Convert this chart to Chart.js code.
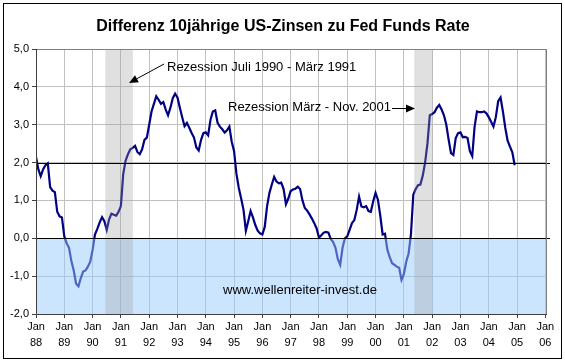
<!DOCTYPE html>
<html>
<head>
<meta charset="utf-8">
<script src="https://cdn.jsdelivr.net/npm/chart.js@4/dist/chart.umd.min.js"></script>
<style>
    html, body { margin: 0; padding: 0; background: #fff; }
    canvas { display: block; }
</style>
</head>
<body>
<canvas id="spreadChart" width="565" height="362"></canvas>
<script>
// Monatswerte (10J-Rendite minus Fed Funds), Jan 1988 .. Dez 2004
const y1988 = [2.15, 1.82, 1.64, 1.82, 1.93, 1.98, 1.35, 1.26, 1.22, 0.7, 0.58, 0.55];
const y1989 = [0.05, -0.13, -0.25, -0.6, -0.85, -1.2, -1.27, -1.05, -0.88, -0.85, -0.75, -0.62];
const y1990 = [-0.31, 0.1, 0.25, 0.42, 0.56, 0.45, 0.22, 0.5, 0.65, 0.62, 0.6, 0.7];
const y1991 = [0.85, 1.7, 2.05, 2.22, 2.35, 2.39, 2.44, 2.28, 2.22, 2.35, 2.6, 2.66];
const y1992 = [3.0, 3.35, 3.55, 3.75, 3.66, 3.55, 3.6, 3.4, 3.25, 3.45, 3.7, 3.82];
const y1993 = [3.72, 3.45, 3.2, 2.96, 3.05, 2.92, 2.78, 2.66, 2.4, 2.32, 2.6, 2.78];
const y1994 = [2.8, 2.72, 3.13, 3.35, 3.38, 3.05, 2.95, 2.88, 2.79, 2.85, 2.95, 2.55];
const y1995 = [2.3, 1.7, 1.33, 1.05, 0.75, 0.2, 0.45, 0.72, 0.55, 0.35, 0.2, 0.13];
const y1996 = [0.1, 0.3, 0.85, 1.2, 1.42, 1.62, 1.5, 1.45, 1.47, 1.3, 0.9, 1.05];
const y1997 = [1.25, 1.29, 1.31, 1.36, 1.3, 1.0, 0.8, 0.73, 0.63, 0.52, 0.4, 0.26];
const y1998 = [0.02, 0.08, 0.15, 0.17, 0.15, -0.02, -0.1, -0.25, -0.55, -0.7, -0.25, 0.0];
const y1999 = [0.05, 0.22, 0.4, 0.48, 0.75, 1.1, 0.84, 0.82, 0.85, 0.72, 0.7, 0.98];
const y2000 = [1.2, 1.02, 0.6, 0.1, 0.12, -0.3, -0.5, -0.66, -0.7, -0.75, -0.78, -1.1];
const y2001 = [-0.95, -0.62, -0.4, 0.1, 1.15, 1.3, 1.4, 1.42, 1.65, 2.0, 2.5, 3.25];
const y2002 = [3.28, 3.33, 3.45, 3.52, 3.4, 3.25, 3.0, 2.6, 2.25, 2.2, 2.65, 2.78];
const y2003 = [2.8, 2.67, 2.68, 2.65, 2.3, 2.17, 2.95, 3.35, 3.33, 3.33, 3.35, 3.3];
const y2004 = [3.2, 3.08, 2.95, 3.2, 3.62, 3.72, 3.35, 2.92, 2.58, 2.42, 2.27, 1.93];

const spread = [].concat(y1988, y1989, y1990, y1991, y1992, y1993, y1994, y1995,
    y1996, y1997, y1998, y1999, y2000, y2001, y2002, y2003, y2004);

// Achsenbeschriftung: Jahre (x in Monaten ab Jan 88)
const yearLabels = ['88', '89', '90', '91', '92', '93', '94', '95', '96',
    '97', '98', '99', '00', '01', '02', '03', '04', '05', '06'];

// Rezessionen (Monate ab Jan 88)
const recessionFrom = [29.4, 160.4];
const recessionTo = [41.1, 168.1];

// schwarze Referenzlinien
const refLines = [0, 2];

Chart.defaults.font.family = 'Arial, "Liberation Sans", sans-serif';
Chart.defaults.color = '#000';

const points = spread.map((v, i) => ({ x: i, y: v }));

// Hintergrund, Flaechen, Texte und Pfeile
const decorPlugin = {
    id: 'decor',
    beforeDraw(chart) {
        const ctx = chart.ctx;
        ctx.save();
        ctx.fillStyle = '#fff';
        ctx.fillRect(0, 0, chart.width, chart.height);
        ctx.strokeStyle = '#000';
        ctx.lineWidth = 1;
        ctx.strokeRect(3.5, 3.5, 558, 355);
        ctx.restore();
    },
    afterDatasetsDraw(chart) {
        const { ctx, chartArea: a, scales: { x, y } } = chart;
        ctx.save();
        // blaue Flaeche unter 0
        const y0 = y.getPixelForValue(0);
        ctx.fillStyle = 'rgba(153, 203, 255, 0.5)';
        ctx.fillRect(a.left, y0, a.right - a.left, a.bottom - y0);

        // Rezessionsbalken
        ctx.fillStyle = 'rgba(160, 160, 160, 0.32)';
        recessionFrom.forEach((from, i) => {
            const x1 = x.getPixelForValue(from);
            const x2 = x.getPixelForValue(recessionTo[i]);
            ctx.fillRect(x1, a.top, x2 - x1, a.bottom - a.top);
        });

        // Referenzlinien
        ctx.strokeStyle = '#000';
        ctx.lineWidth = 1;
        refLines.forEach(v => {
            const py = Math.round(y.getPixelForValue(v)) + 0.5;
            ctx.beginPath();
            ctx.moveTo(a.left, py);
            ctx.lineTo(a.right + 3, py);
            ctx.stroke();
        });

        // Rahmen Plotbereich
        ctx.strokeStyle = '#808080';
        ctx.beginPath();
        ctx.moveTo(a.left, a.top + 0.5);
        ctx.lineTo(a.right - 0.5, a.top + 0.5);
        ctx.lineTo(a.right - 0.5, a.bottom);
        ctx.stroke();
        ctx.strokeStyle = '#404040';
        ctx.beginPath();
        ctx.moveTo(a.left + 0.5, a.top);
        ctx.lineTo(a.left + 0.5, a.bottom + 0.5);
        ctx.lineTo(a.right, a.bottom + 0.5);
        ctx.stroke();
        ctx.restore();
    },
    afterDraw(chart) {
        const ctx = chart.ctx;
        ctx.save();
        ctx.fillStyle = '#000';
        ctx.textBaseline = 'middle';

        ctx.font = 'bold 16px Arial, "Liberation Sans", sans-serif';
        ctx.textAlign = 'center';
        ctx.fillText('Differenz 10jährige US-Zinsen zu Fed Funds Rate', 283, 27);

        ctx.font = '13px Arial, "Liberation Sans", sans-serif';
        ctx.textAlign = 'left';
        ctx.fillText('Rezession Juli 1990 - März 1991', 167, 67);
        ctx.fillText('Rezession März - Nov. 2001', 228, 107);
        ctx.fillText('www.wellenreiter-invest.de', 223, 290);

        const arrow = (x1, y1, x2, y2) => {
            const ang = Math.atan2(y2 - y1, x2 - x1);
            const len = 9, wid = 4;
            ctx.strokeStyle = '#000';
            ctx.lineWidth = 1;
            ctx.beginPath();
            ctx.moveTo(x1, y1);
            ctx.lineTo(x2 - Math.cos(ang) * len, y2 - Math.sin(ang) * len);
            ctx.stroke();
            ctx.beginPath();
            ctx.moveTo(x2, y2);
            ctx.lineTo(x2 - Math.cos(ang) * len - Math.sin(ang) * wid, y2 - Math.sin(ang) * len + Math.cos(ang) * wid);
            ctx.lineTo(x2 - Math.cos(ang) * len + Math.sin(ang) * wid, y2 - Math.sin(ang) * len - Math.cos(ang) * wid);
            ctx.closePath();
            ctx.fill();
        };
        arrow(164, 64, 129, 83);
        arrow(392, 108.5, 415, 108.5);
        ctx.restore();
    }
};

new Chart(document.getElementById('spreadChart'), {
    type: 'line',
    data: {
        datasets: [{
            data: points,
            borderColor: '#000080',
            borderWidth: 2.2,
            pointRadius: 0,
            tension: 0,
            fill: false
        }]
    },
    options: {
        responsive: false,
        animation: false,
        events: [],
        layout: { padding: { left: 0, right: 18, top: 49, bottom: 0 } },
        plugins: {
            legend: { display: false },
            tooltip: { enabled: false },
            title: { display: false }
        },
        scales: {
            x: {
                type: 'linear',
                min: 0,
                max: 216.7,
                afterFit: (scale) => { scale.height = 48; },
                grid: { color: '#c0c0c0', tickColor: '#404040', tickLength: 4 },
                border: { display: false },
                ticks: {
                    stepSize: 12,
                    includeBounds: false,
                    autoSkip: false,
                    maxRotation: 0,
                    padding: 1,
                    font: { size: 11, lineHeight: 1.45 },
                    callback: (v) => (v % 12 === 0 ? ['Jan', yearLabels[v / 12]] : '')
                }
            },
            y: {
                min: -2,
                max: 5,
                afterFit: (scale) => { scale.width = 36; },
                grid: { color: '#c0c0c0', tickColor: '#404040', tickLength: 4 },
                border: { display: false },
                ticks: {
                    stepSize: 1,
                    padding: 3,
                    font: { size: 11 },
                    callback: (v) => v.toFixed(1).replace('.', ',')
                }
            }
        }
    },
    plugins: [decorPlugin]
});
</script>
</body>
</html>
